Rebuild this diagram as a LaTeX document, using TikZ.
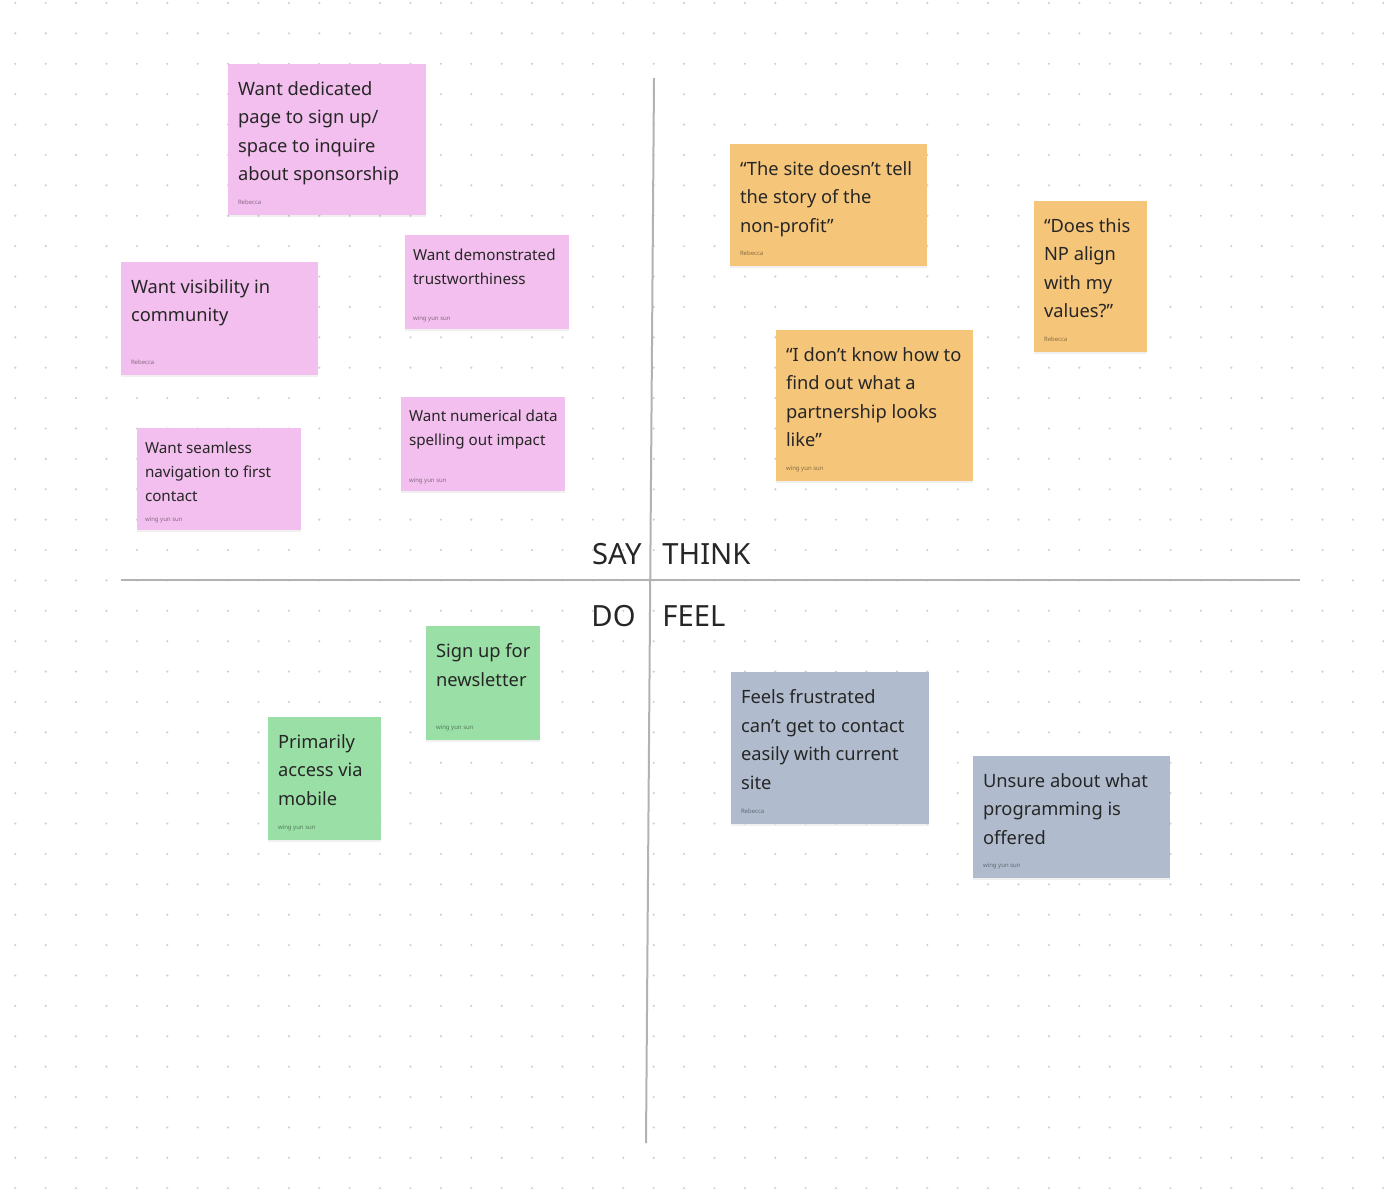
\documentclass[tikz,border=0pt]{standalone}
\usepackage{fontspec}
\usepackage{xcolor}
\usepackage{tikz}
\usetikzlibrary{calc,fit,shadows}
\newfontfamily\notesans{Noto Sans}
\newcommand{\bignote}{\notesans\fontsize{9.15}{14.25}\selectfont}
\newcommand{\smallnote}{\notesans\fontsize{7.6}{12}\selectfont}
\newcommand{\authorfont}{\notesans\fontsize{3}{4}\selectfont}
\definecolor{notepink}{HTML}{F3BFEE}
\definecolor{noteorange}{HTML}{F5C57A}
\definecolor{notegreen}{HTML}{9ADFA6}
\definecolor{noteblue}{HTML}{B0BCCE}
\definecolor{ink}{HTML}{262626}
\definecolor{axisgray}{HTML}{B2B2B2}
\definecolor{dotgray}{HTML}{CFCFCF}

\begin{document}
\begin{tikzpicture}[
    x=0.5pt, y=-0.5pt,
    sticky/.style={inner sep=0pt, draw=none, drop shadow={shadow xshift=0pt, shadow yshift=-0.8pt, opacity=0.12}},
    bigtxt/.style={anchor=north west, inner sep=0pt, align=left, text=ink, font=\bignote},
    smalltxt/.style={anchor=north west, inner sep=0pt, align=left, text=ink, font=\smallnote},
    author/.style={anchor=base west, inner sep=0pt, text=black, text opacity=0.45, font=\authorfont},
    quadrant/.style={inner sep=0pt, text=ink, font=\notesans\fontsize{14.6}{18}\selectfont},
    axis/.style={draw=axisgray, line width=1pt},
]
    \useasboundingbox (0,0) rectangle (1384,1188);

    % dot grid
    \foreach \i in {0,...,45}
        \foreach \j in {0,...,39}
            \fill[dotgray] (15.3+30.4*\i, 3+30.39*\j) circle (0.6pt);

    % axes
    \coordinate (vtop) at (654,78);
    \coordinate (vbot) at (646,1143);
    \coordinate (hleft) at (121,580);
    \coordinate (hright) at (1300,580);
    \draw[axis] (vtop) -- (vbot);
    \draw[axis] (hleft) -- (hright);

    % quadrant titles
    \node[quadrant, anchor=base east] (say) at (642,564) {SAY};
    \node[quadrant, anchor=base west] (think) at (662,564) {THINK};
    \node[quadrant, anchor=base east] (do) at (636,626) {DO};
    \node[quadrant, anchor=base west] (feel) at (662,626) {FEEL};

    % Say
    \node[sticky, fill=notepink, fit={(228,64) (426,215)}] (say1) {};
    \node[bigtxt] (say1txt) at ($(say1.north west)+(10,17.5)$) {Want dedicated\\page to sign up/\\space to inquire\\about sponsorship};
    \node[author] (say1by) at ($(say1.south west)+(10,-11)$) {Rebecca};

    \node[sticky, fill=notepink, fit={(121,262) (318,375)}] (say2) {};
    \node[bigtxt] (say2txt) at ($(say2.north west)+(10,17.5)$) {Want visibility in\\community};
    \node[author] (say2by) at ($(say2.south west)+(10,-11)$) {Rebecca};

    \node[sticky, fill=notepink, fit={(405,235) (569,329)}] (say3) {};
    \node[smalltxt] (say3txt) at ($(say3.north west)+(8,14)$) {Want demonstrated\\trustworthiness};
    \node[author] (say3by) at ($(say3.south west)+(8,-9)$) {wing yun sun};

    \node[sticky, fill=notepink, fit={(137,428) (301,530)}] (say4) {};
    \node[smalltxt] (say4txt) at ($(say4.north west)+(8,14)$) {Want seamless\\navigation to first\\contact};
    \node[author] (say4by) at ($(say4.south west)+(8,-9)$) {wing yun sun};

    \node[sticky, fill=notepink, fit={(401,397) (565,491)}] (say5) {};
    \node[smalltxt] (say5txt) at ($(say5.north west)+(8,13)$) {Want numerical data\\spelling out impact};
    \node[author] (say5by) at ($(say5.south west)+(8,-9)$) {wing yun sun};

    % Think
    \node[sticky, fill=noteorange, fit={(730,144) (927,266)}] (think1) {};
    \node[bigtxt] (think1txt) at ($(think1.north west)+(10,17.5)$) {“The site doesn’t tell\\the story of the\\non-profit”};
    \node[author] (think1by) at ($(think1.south west)+(10,-11)$) {Rebecca};

    \node[sticky, fill=noteorange, fit={(1034,201) (1147,352)}] (think2) {};
    \node[bigtxt] (think2txt) at ($(think2.north west)+(10,17.5)$) {“Does this\\NP align\\with my\\values?”};
    \node[author] (think2by) at ($(think2.south west)+(10,-11)$) {Rebecca};

    \node[sticky, fill=noteorange, fit={(776,330) (973,481)}] (think3) {};
    \node[bigtxt] (think3txt) at ($(think3.north west)+(10,17.5)$) {“I don’t know how to\\find out what a\\partnership looks\\like”};
    \node[author] (think3by) at ($(think3.south west)+(10,-11)$) {wing yun sun};

    % Do
    \node[sticky, fill=notegreen, fit={(426,626) (540,740)}] (do1) {};
    \node[bigtxt] (do1txt) at ($(do1.north west)+(10,17.5)$) {Sign up for\\newsletter};
    \node[author] (do1by) at ($(do1.south west)+(10,-11)$) {wing yun sun};

    \node[sticky, fill=notegreen, fit={(268,717) (381,840)}] (do2) {};
    \node[bigtxt] (do2txt) at ($(do2.north west)+(10,17.5)$) {Primarily\\access via\\mobile};
    \node[author] (do2by) at ($(do2.south west)+(10,-11)$) {wing yun sun};

    % Feel
    \node[sticky, fill=noteblue, fit={(731,672) (929,824)}] (feel1) {};
    \node[bigtxt] (feel1txt) at ($(feel1.north west)+(10,17.5)$) {Feels frustrated\\can’t get to contact\\easily with current\\site};
    \node[author] (feel1by) at ($(feel1.south west)+(10,-11)$) {Rebecca};

    \node[sticky, fill=noteblue, fit={(973,756) (1170,878)}] (feel2) {};
    \node[bigtxt] (feel2txt) at ($(feel2.north west)+(10,17.5)$) {Unsure about what\\programming is\\offered};
    \node[author] (feel2by) at ($(feel2.south west)+(10,-11)$) {wing yun sun};
\end{tikzpicture}
\end{document}
